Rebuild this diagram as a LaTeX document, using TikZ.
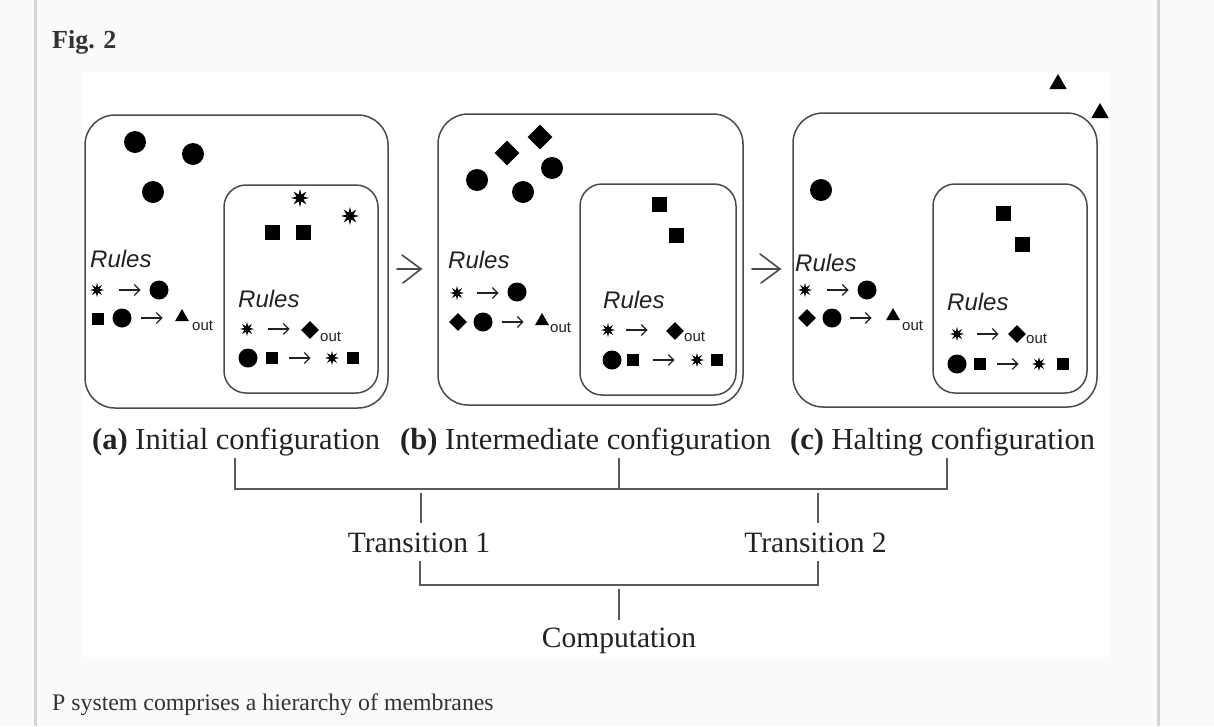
\documentclass[tikz,border=0pt]{standalone}
\usepackage{fontspec}
\setmainfont{Liberation Serif}
\setsansfont{Liberation Sans}
\usetikzlibrary{shapes.geometric,arrows.meta}
\definecolor{pagebg}{HTML}{FAFAFA}
\definecolor{bordergray}{HTML}{D4D4D4}
\definecolor{linegray}{HTML}{4A4A4A}
\definecolor{brkgray}{HTML}{5A5A5A}
\definecolor{pagetxt}{HTML}{333333}
\definecolor{figtxt}{HTML}{222222}
\newcommand\myfs[1]{\fontsize{#1}{#1}\selectfont}
\tikzset{
  ball/.style={circle,fill=black,inner sep=0pt,minimum size=#1},
  ball/.default=19,
  sqr/.style={rectangle,fill=black,inner sep=0pt,minimum size=#1},
  sqr/.default=12,
  dia/.style={diamond,fill=black,inner sep=0pt,minimum size=#1},
  dia/.default=18,
  tri/.style={regular polygon,regular polygon sides=3,fill=black,inner sep=0pt,minimum size=#1},
  tri/.default=16,
  burst/.style={star,star points=8,star point ratio=2.4,fill=black,inner sep=0pt,minimum size=#1},
  burst/.default=14,
  membrane/.style={draw=linegray,line width=1.5pt,rounded corners=#1,inner sep=0pt},
  rulestitle/.style={font=\sffamily\itshape\myfs{24},text=figtxt,anchor=base west,inner sep=0pt},
  outlbl/.style={font=\sffamily\myfs{15},text=figtxt,anchor=base west,inner sep=0pt},
  rarrline/.style={draw=figtxt,line width=1.3pt,-{Straight Barb[length=5.5pt,width=11pt]}},
  rarr/.style={inner sep=0pt,minimum width=21pt,minimum height=2pt,
    append after command={\pgfextra{\draw[rarrline] (\tikzlastnode.west) -- (\tikzlastnode.east);}}},
  lbl/.style={font=\myfs{30.5},text=figtxt,anchor=base west,inner sep=0pt},
  trans/.style={font=\myfs{29.5},text=figtxt,anchor=base,inner sep=0pt},
  brk/.style={draw=brkgray,line width=1.6pt},
  bigarr/.style={draw=linegray,line width=1.6pt,line cap=round,line join=miter},
}
\begin{document}
\begin{tikzpicture}[x=1pt,y=-1pt]
\useasboundingbox (0,0) rectangle (1214,726);
% page
\fill[pagebg] (0,0) rectangle (1214,726);
\fill[bordergray] (34,0) rectangle (37,726);
\fill[bordergray] (1157,0) rectangle (1160,726);
\fill[white] (83,72) rectangle (1110,657);
\node[font=\bfseries\myfs{26},text=pagetxt,anchor=base west,inner sep=0pt] (fig) at (52,48) {Fig. 2};
\node[font=\myfs{23.8},text=pagetxt,anchor=base west,inner sep=0pt] (cap) at (52,710) {P system comprises a hierarchy of membranes};

% ---------------- (a) ----------------
\node[membrane=30pt,minimum width=303pt,minimum height=293pt] (aout) at (236.5,261.5) {};
\node[membrane=22pt,minimum width=154pt,minimum height=208pt] (ain) at (301,289) {};
\node[ball=22] (a-m1) at (135,142) {};
\node[ball=22] (a-m2) at (193,154) {};
\node[ball=22] (a-m3) at (153,192) {};
\node[burst=18] (a-m4) at (300,198) {};
\node[burst=18] (a-m5) at (350,216) {};
\node[sqr=15] (a-m6) at (272,232) {};
\node[sqr=15] (a-m7) at (303,232) {};
\node[rulestitle] (a-r) at (90,267) {Rules};
\node[burst] (a-r1a) at (97,290) {};
\node[rarr] (a-r1b) at (130,290) {};
\node[ball] (a-r1c) at (159,290) {};
\node[sqr] (a-r2a) at (98,319) {};
\node[ball] (a-r2b) at (122,318) {};
\node[rarr] (a-r2c) at (152,318) {};
\node[tri] (a-r2d) at (182,317) {};
\node[outlbl] (a-r2e) at (192,330) {out};
\node[rulestitle] (a-ir) at (238,307) {Rules};
\node[burst] (a-i1a) at (247,329) {};
\node[rarr] (a-i1b) at (279,329) {};
\node[dia] (a-i1c) at (310,330) {};
\node[outlbl] (a-i1d) at (320,341) {out};
\node[ball] (a-i2a) at (248,358) {};
\node[sqr] (a-i2b) at (272,358) {};
\node[rarr] (a-i2c) at (300,358) {};
\node[burst] (a-i2d) at (332,358) {};
\node[sqr] (a-i2e) at (353,358) {};

% arrow a -> b
\coordinate (t1tip) at (421,269);
\draw[bigarr] (397,269) -- (t1tip);
\draw[bigarr] (402,255) -- (t1tip) -- (403,283);

% ---------------- (b) ----------------
\node[membrane=30pt,minimum width=305pt,minimum height=291pt] (bout) at (590.5,259.5) {};
\node[membrane=22pt,minimum width=156pt,minimum height=211pt] (bin) at (658,289.5) {};
\node[dia=25] (b-m1) at (507,153) {};
\node[dia=25] (b-m2) at (540,137) {};
\node[ball=22] (b-m3) at (477,180) {};
\node[ball=22] (b-m4) at (523,192) {};
\node[ball=22] (b-m5) at (552,168) {};
\node[sqr=15] (b-m6) at (659,204) {};
\node[sqr=15] (b-m7) at (676,235) {};
\node[rulestitle] (b-r) at (448,268) {Rules};
\node[burst] (b-r1a) at (457,293) {};
\node[rarr] (b-r1b) at (488,293) {};
\node[ball] (b-r1c) at (517,292) {};
\node[dia] (b-r2a) at (458,322) {};
\node[ball] (b-r2b) at (483,322) {};
\node[rarr] (b-r2c) at (513,322) {};
\node[tri] (b-r2d) at (542,321) {};
\node[outlbl] (b-r2e) at (550,332) {out};
\node[rulestitle] (b-ir) at (603,308) {Rules};
\node[burst] (b-i1a) at (608,330) {};
\node[rarr] (b-i1b) at (637,330) {};
\node[dia] (b-i1c) at (675,331) {};
\node[outlbl] (b-i1d) at (684,341) {out};
\node[ball] (b-i2a) at (612,360) {};
\node[sqr] (b-i2b) at (633,360) {};
\node[rarr] (b-i2c) at (664,360) {};
\node[burst] (b-i2d) at (697,360) {};
\node[sqr] (b-i2e) at (717,360) {};

% arrow b -> c
\coordinate (t2tip) at (780,269);
\draw[bigarr] (752,269) -- (t2tip);
\draw[bigarr] (760,254) -- (t2tip) -- (761,283);

% ---------------- (c) ----------------
\node[membrane=30pt,minimum width=304pt,minimum height=294pt] (cout) at (945,260) {};
\node[membrane=22pt,minimum width=154pt,minimum height=209pt] (cin) at (1010,288.5) {};
\node[ball=22] (c-m1) at (821,190) {};
\node[sqr=15] (c-m2) at (1003,213) {};
\node[sqr=15] (c-m3) at (1022,244) {};
\node[tri=20] (c-m4) at (1058,84) {};
\node[tri=20] (c-m5) at (1100,113) {};
\node[rulestitle] (c-r) at (795,271) {Rules};
\node[burst] (c-r1a) at (805,290) {};
\node[rarr] (c-r1b) at (838,290) {};
\node[ball] (c-r1c) at (867,290) {};
\node[dia] (c-r2a) at (807,318) {};
\node[ball] (c-r2b) at (832,318) {};
\node[rarr] (c-r2c) at (861,318) {};
\node[tri] (c-r2d) at (893,316) {};
\node[outlbl] (c-r2e) at (902,330) {out};
\node[rulestitle] (c-ir) at (947,310) {Rules};
\node[burst] (c-i1a) at (957,334) {};
\node[rarr] (c-i1b) at (988,334) {};
\node[dia] (c-i1c) at (1017,334) {};
\node[outlbl] (c-i1d) at (1026,343) {out};
\node[ball] (c-i2a) at (957,364) {};
\node[sqr] (c-i2b) at (980,364) {};
\node[rarr] (c-i2c) at (1008,364) {};
\node[burst] (c-i2d) at (1039,364) {};
\node[sqr] (c-i2e) at (1063,364) {};

% ---------------- labels and brackets ----------------
\node[lbl] (la) at (92,449) {\textbf{(a)} Initial configuration};
\node[lbl] (lb) at (400,449) {\textbf{(b)} Intermediate configuration};
\node[lbl] (lc) at (790,449) {\textbf{(c)} Halting configuration};
\node[trans] (t1) at (419,552) {Transition 1};
\node[trans] (t2) at (815.5,552) {Transition 2};
\node[trans] (comp) at (619,647) {Computation};

\coordinate (ja) at (235,458);
\coordinate (jb) at (619,458);
\coordinate (jc) at (947,458);
\coordinate (ha) at (235,489);
\coordinate (hb) at (619,489);
\coordinate (hc) at (947,489);
\draw[brk] (ja) -- (ha) -- (hc) -- (jc);
\draw[brk] (jb) -- (hb);
\coordinate (u1) at (421,493);
\coordinate (v1) at (421,523);
\coordinate (u2) at (818,493);
\coordinate (v2) at (818,523);
\draw[brk] (u1) -- (v1);
\draw[brk] (u2) -- (v2);
\coordinate (d1) at (420,561);
\coordinate (d2) at (818,561);
\coordinate (e1) at (420,585);
\coordinate (e2) at (818,585);
\draw[brk] (d1) -- (e1) -- (e2) -- (d2);
\coordinate (cs) at (619,589);
\coordinate (ce) at (619,620);
\draw[brk] (cs) -- (ce);
\end{tikzpicture}
\end{document}
